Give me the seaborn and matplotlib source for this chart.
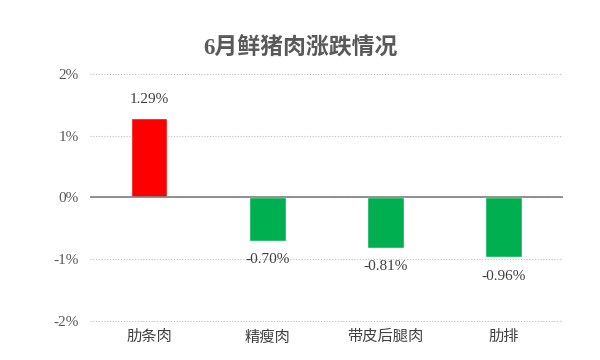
import pandas as pd
import seaborn as sns
import matplotlib.pyplot as plt
from matplotlib.ticker import FuncFormatter

categories = ["肋条肉", "精瘦肉", "带皮后腿肉", "肋排"]
changes = [1.29, -0.70, -0.81, -0.96]
title = "6月鲜猪肉涨跌情况"

sns.set_style("white")
plt.rcParams['font.family'] = ['Liberation Serif', 'Noto Sans CJK SC', 'DejaVu Sans']

df = pd.DataFrame({"category": categories, "change": changes})
colors = ["#FF0000" if v > 0 else "#00B050" for v in changes]

fig = plt.figure(figsize=(6, 3.6), dpi=100)
ax = fig.add_axes([0.15, 0.106, 0.788, 0.691])

sns.barplot(data=df, x="category", y="change", hue="category", palette=colors,
            legend=False, width=0.31, saturation=1, ax=ax)

ax.set_ylim(-2.01, 2.01)
ax.set_yticks([-2, -1, 0, 1, 2])
ax.yaxis.set_major_formatter(FuncFormatter(lambda v, _: f"{v:.0f}%"))
ax.set_xlim(-0.5, 3.5)
ax.grid(axis="y", linestyle=(0, (1, 1.5)), color="#BFBFBF", linewidth=0.8)
ax.set_axisbelow(True)
ax.axhline(0, color="#7F7F7F", linewidth=1.2, zorder=3)
for s in ax.spines.values():
    s.set_visible(False)
ax.set_xlabel("")
ax.set_ylabel("")
ax.tick_params(axis="y", length=0, labelsize=11, labelcolor="#595959", pad=8)
ax.tick_params(axis="x", length=0, labelsize=11, labelcolor="#404040", pad=6)

for i, v in enumerate(changes):
    off = 0.29 if v > 0 else -0.31
    ax.text(i, v + off, f"{v:.2f}%", ha="center", va="center",
            fontsize=11, color="#404040")

fig.suptitle(title, x=0.5, y=0.895, fontsize=16.5, color="#595959", fontweight="bold")

fig.savefig("out.png", dpi=100)
